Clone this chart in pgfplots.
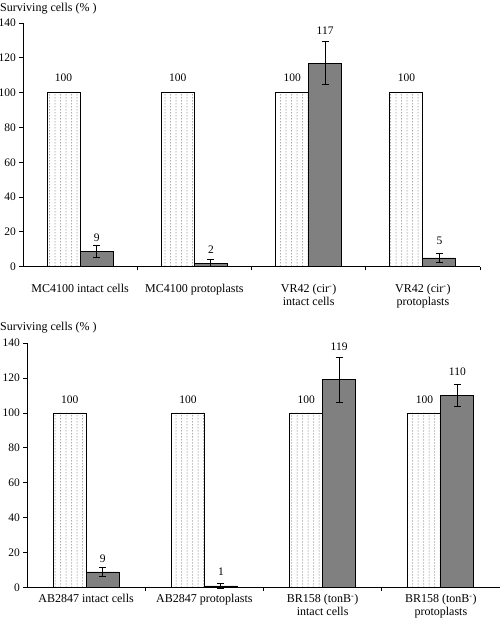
\documentclass[border=0pt]{standalone}
\usepackage{pgfplots}
\pgfplotsset{compat=1.18}
\usepackage{fontspec}
\setmainfont{Liberation Serif}
\usetikzlibrary{patterns}
\pgfdeclarepatternformonly{mydots}{\pgfqpoint{-1pt}{-1pt}}{\pgfqpoint{1pt}{1pt}}{\pgfqpoint{5.5pt}{3pt}}{\pgfpathcircle{\pgfqpoint{0pt}{0pt}}{0.5pt}\pgfusepath{fill}}
\definecolor{bargray}{RGB}{128,128,128}
\definecolor{dotgray}{RGB}{85,85,85}

\pgfplotsset{lab/.style={only marks, mark=none, nodes near coords, point meta=explicit symbolic,
   nodes near coords style={anchor=base, inner sep=0pt, font=\fontsize{11.5}{12}\selectfont, xshift=#1}}}
\pgfplotsset{ctrl/.style={ybar, bar width=33pt, bar shift=-16.5pt, draw=black, line width=0.8pt, pattern=mydots, pattern color=dotgray}}
\pgfplotsset{trt/.style={ybar, bar width=33pt, bar shift=16.5pt, draw=black, line width=0.8pt, fill=bargray,
   error bars/.cd, y dir=both, y explicit, error bar style={black, line width=0.8pt, xshift=16.5pt}, error mark options={black, line width=0.8pt, mark size=3.5pt, rotate=90}}}
\pgfplotsset{mystyle/.style={
 scale only axis,
 axis x line*=bottom, axis y line*=left,
 xmin=-0.5, xmax=3.5, ymin=0, ymax=140,
 ytick={0,20,...,140},
 xtick={0.5,1.5,2.5,3.5},
 xticklabels={},
 tick align=outside, major tick length=3.5pt,
 tick style={black, line width=0.8pt},
 axis line style={black, line width=0.8pt},
 clip=false,
 font=\fontsize{12}{13}\selectfont,
 yticklabel style={font=\fontsize{11.5}{12}\selectfont},
 /pgf/number format/assume math mode=true,
 extra x ticks={0,1,2,3},
 extra x tick style={major tick length=0pt, xticklabel style={align=center, font=\fontsize{12}{13}\selectfont}},
 title style={at={(0,1)}, anchor=base west, inner sep=0pt, font=\fontsize{12}{13}\selectfont},
}}

\begin{document}
\begin{tikzpicture}
\path[use as bounding box] (0,0) rectangle (500pt,626pt);

% Top panel
\begin{axis}[mystyle,
  at={(23pt,359.3pt)}, anchor=south west,
  width=457pt, height=243.7pt,
  extra x tick labels={MC4100 intact cells, MC4100 protoplasts, VR42 (cir\textsuperscript{-})\\intact cells, VR42 (cir\textsuperscript{-})\\protoplasts},
  extra x tick style={xticklabel style={yshift=-14pt}},
  title={Surviving cells (\% )},
  title style={xshift=-23pt, yshift=5.5pt},
]
\addplot[ctrl] coordinates {(0,100) (1,100) (2,100) (3,100)};
\addplot[trt] coordinates {(0,9) +- (0,3.5) (1,2) +- (0,2) (2,117) +- (0,12.3) (3,5) +- (0,2.7)};
\addplot[lab=-16.5pt] coordinates {(0,106.4) [100] (1,106.4) [100] (2,106.4) [100] (3,106.4) [100]};
\addplot[lab=16.5pt] coordinates {(0,14.2) [9] (1,7.3) [2] (2,133.5) [117] (3,12.5) [5]};
\end{axis}

% Bottom panel
\begin{axis}[mystyle,
  at={(27pt,38.3pt)}, anchor=south west,
  width=473pt, height=244.7pt,
  extra x tick labels={AB2847 intact cells, AB2847 protoplasts, BR158 (tonB\textsuperscript{-})\\intact cells, BR158 (tonB\textsuperscript{-})\\protoplasts},
  extra x tick style={xticklabel style={yshift=-3pt}},
  title={Surviving cells (\% )},
  title style={xshift=-27pt, yshift=6.5pt},
]
\addplot[ctrl] coordinates {(0,100) (1,100) (2,100) (3,100)};
\addplot[trt] coordinates {(0,9) +- (0,2.8) (1,1) +- (0,1.3) (2,119) +- (0,13) (3,110) +- (0,6.2)};
\addplot[lab=-16.5pt] coordinates {(0,105.1) [100] (1,105.1) [100] (2,105.1) [100] (3,105.1) [100]};
\addplot[lab=16.5pt] coordinates {(0,14.3) [9] (1,6.7) [1] (2,135.6) [119] (3,121.3) [110]};
\end{axis}
\end{tikzpicture}
\end{document}
